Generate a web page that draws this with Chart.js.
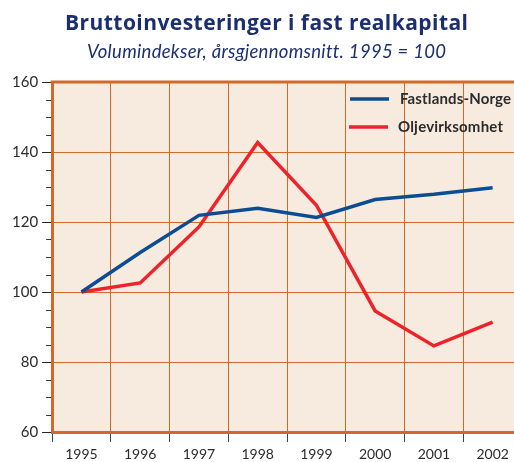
<!DOCTYPE html>
<html>
<head>
<meta charset="utf-8">
<script src="https://cdn.jsdelivr.net/npm/chart.js@4.4.0/dist/chart.umd.min.js"></script>
<style>
  html, body { margin: 0; padding: 0; background: #fff; overflow: hidden; }
  #wrap { width: 532px; height: 466px; }
</style>
</head>
<body>
<div id="wrap"><canvas id="c" width="532" height="466"></canvas></div>
<script>
const years = ['1995', '1996', '1997', '1998', '1999', '2000', '2001', '2002'];
const fastlandsNorge = [100, 111.3, 121.9, 123.9, 121.3, 126.4, 127.9, 129.8];
const oljevirksomhet = [100, 102.6, 118.6, 142.7, 124.8, 94.6, 84.6, 91.4];
const yMin = 60, yMax = 160, yStep = 20, yMinorStep = 5;
const titleText = 'Bruttoinvesteringer i fast realkapital';
const subtitleText = 'Volumindekser, årsgjennomsnitt. 1995 = 100';

const ORANGE = '#CF6A2C';
const BG = '#F7EBE0';
const TEXT = '#2b2b2b';
const NAVY = '#1B2F70';

function fitText(ctx, text, font, x0, x1, baseline) {
  ctx.font = font;
  ctx.letterSpacing = '0px';
  const w = ctx.measureText(text).width;
  const ls = ((x1 - x0) - w) / (text.length - 1);
  ctx.letterSpacing = ls + 'px';
  ctx.textAlign = 'left';
  ctx.textBaseline = 'alphabetic';
  ctx.fillText(text, x0, baseline);
  ctx.letterSpacing = '0px';
}

const bgPlugin = {
  id: 'bg',
  beforeDraw(chart) {
    const a = chart.chartArea, ctx = chart.ctx;
    ctx.save();
    ctx.fillStyle = BG;
    ctx.fillRect(a.left, a.top, a.right - a.left, a.bottom - a.top);
    ctx.restore();
  },
  afterDraw(chart) {
    const a = chart.chartArea, ctx = chart.ctx, ys = chart.scales.y;
    ctx.save();
    // titles
    ctx.fillStyle = NAVY;
    fitText(ctx, titleText, 'bold 21px "Open Sans"', 65, 468, 30);
    fitText(ctx, subtitleText, 'italic 18.5px Lato', 87, 445, 58);
    // top border
    ctx.strokeStyle = ORANGE;
    ctx.lineWidth = 3;
    ctx.beginPath();
    ctx.moveTo(a.left - 1.5, a.top);
    ctx.lineTo(a.right, a.top);
    ctx.stroke();
    // minor ticks
    ctx.strokeStyle = '#333';
    ctx.lineWidth = 1;
    for (let v = yMin; v <= yMax; v += yMinorStep) {
      if (v % yStep === 0) continue;
      const y = Math.round(ys.getPixelForValue(v)) + 0.5;
      ctx.beginPath();
      ctx.moveTo(a.left - 6, y);
      ctx.lineTo(a.left - 1, y);
      ctx.stroke();
    }
    // legend
    const items = chart.data.datasets;
    const lx = [350, 349], ly = [99, 127], tx = [400, 398], tw = [111, 105];
    items.forEach((ds, i) => {
      ctx.strokeStyle = ds.borderColor;
      ctx.lineWidth = 3.5;
      ctx.beginPath();
      ctx.moveTo(lx[i], ly[i]);
      ctx.lineTo(lx[i] + 39, ly[i]);
      ctx.stroke();
      ctx.fillStyle = TEXT;
      fitText(ctx, ds.label, 'bold 15px Lato', tx[i], tx[i] + tw[i], ly[i] + 5);
    });
    ctx.restore();
  }
};

new Chart(document.getElementById('c'), {
  type: 'line',
  data: {
    labels: years,
    datasets: [
      { label: 'Fastlands-Norge', data: fastlandsNorge, borderColor: '#0B4C93', borderWidth: 3.5, pointRadius: 0, tension: 0, fill: false },
      { label: 'Oljevirksomhet', data: oljevirksomhet, borderColor: '#EE2229', borderWidth: 3.5, pointRadius: 0, tension: 0, fill: false }
    ]
  },
  options: {
    responsive: false,
    animation: false,
    devicePixelRatio: 1,
    layout: { padding: { left: 8, right: 10, top: 82, bottom: 0 } },
    plugins: {
      legend: { display: false },
      tooltip: { enabled: false },
      title: { display: false },
      subtitle: { display: false }
    },
    scales: {
      x: {
        offset: true,
        grid: { offset: true, color: ORANGE, lineWidth: 1, tickColor: '#444', tickLength: 10, drawOnChartArea: true },
        border: { color: ORANGE, width: 3 },
        ticks: { color: TEXT, font: { family: 'Lato', size: 14, lineHeight: 1.0 }, padding: 5 }
      },
      y: {
        min: yMin, max: yMax,
        grid: { color: ORANGE, lineWidth: 1, tickColor: '#222', tickLength: 10 },
        border: { color: ORANGE, width: 3 },
        ticks: { stepSize: yStep, color: TEXT, font: { family: 'Lato', size: 15 }, padding: 4 }
      }
    }
  },
  plugins: [bgPlugin]
});
</script>
</body>
</html>
